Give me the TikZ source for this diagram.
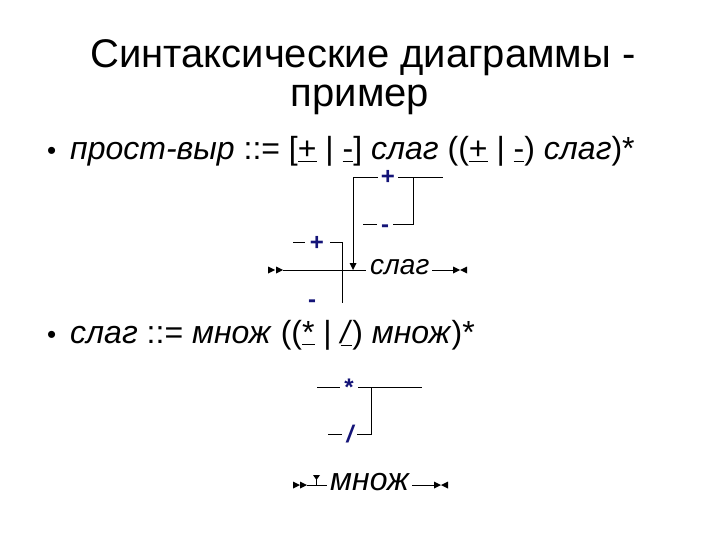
\documentclass[tikz,border=0pt]{standalone}
\usepackage{fontspec}
\setmainfont{Liberation Sans}
\definecolor{lblblue}{RGB}{20,20,120}
\begin{document}
\begin{tikzpicture}[x=1pt,y=-1pt,
  ttl/.style={font=\fontsize{40}{44}\selectfont, inner sep=0pt, anchor=base},
  btxt/.style={font=\fontsize{32}{36}\selectfont, anchor=base west, inner sep=0pt},
  bdot/.style={font=\fontsize{26}{28}\selectfont, anchor=base west, inner sep=0pt},
  lbl/.style={font=\fontsize{24}{26}\selectfont\bfseries, text=lblblue, inner sep=0pt, text height=14pt, text depth=0pt},
  nt/.style={font=\fontsize{28}{32}\selectfont\itshape, inner sep=0pt},
  ln/.style={line width=1pt, black},
  tri/.style={fill=black}]
\useasboundingbox (0,0) rectangle (720,540);
% title
\node[ttl] (t1) at (363,68) {Синтаксические диаграммы -};
\node[ttl] (t2) at (360,107) {пример};
% bullets
\node[bdot] (b1dot) at (47,160) {•};
\node[btxt] (b1) at (70,160) {\textit{прост-выр} ::= [\underline{+} | \underline{-}] \textit{слаг} ((\underline{+} | \underline{-}) \textit{слаг})*};
\node[bdot] (b2dot) at (47,343) {•};
\node[btxt] (b2) at (70,343) {\textit{слаг} ::= \textit{множ} ((\underline{*} | \underline{\textit{/}}) \textit{множ})*};
% ---- diagram 1 ----
\coordinate (s1) at (283,270);
\coordinate (m1) at (366,270);
\node[nt, anchor=west] (slag) at (370,267) {слаг};
\coordinate (e1a) at (432,270);
\coordinate (e1b) at (453,270);
\draw[ln] (s1) -- (m1);
\draw[ln] (e1a) -- (e1b);
\fill[tri] (268,266.5) -- (275,270) -- (268,273.5) -- cycle;
\fill[tri] (276,266.5) -- (283,270) -- (276,273.5) -- cycle;
\fill[tri] (453,266.5) -- (460,270) -- (453,273.5) -- cycle;
\fill[tri] (467,266.5) -- (460,270) -- (467,273.5) -- cycle;
% top loop
\node[lbl] (p1) at (388,177.5) {+};
\coordinate (a1) at (353,178);
\coordinate (a2) at (378,178);
\coordinate (a3) at (398,178);
\coordinate (a4) at (443,178);
\coordinate (a5) at (413,178);
\coordinate (a6) at (413,225);
\coordinate (a7) at (393,225);
\coordinate (a8) at (377,225);
\coordinate (a9) at (363,225);
\coordinate (a10) at (353,263);
\node[lbl] (mi1) at (385,226) {-};
\draw[ln] (a10) -- (a1) -- (a2);
\draw[ln] (a3) -- (a4);
\draw[ln] (a5) -- (a6) -- (a7);
\draw[ln] (a8) -- (a9);
\fill[tri] (349.5,263) -- (356.5,263) -- (353,270) -- cycle;
% left branch
\node[lbl] (p2) at (317,243) {+};
\node[lbl] (mi2) at (312,300) {-};
\coordinate (c1) at (293,242);
\coordinate (c2) at (305,242);
\coordinate (c3) at (330,242);
\coordinate (c4) at (342,242);
\coordinate (c5) at (342,303);
\draw[ln] (c1) -- (c2);
\draw[ln] (c3) -- (c4) -- (c5);
% ---- diagram 2 ----
\node[lbl] (st) at (349,388) {*};
\node[lbl, font=\fontsize{24}{26}\selectfont\bfseries\itshape] (sl) at (350,435) {/};
\coordinate (d1) at (317,387);
\coordinate (d2) at (340,387);
\coordinate (d3) at (358,387);
\coordinate (d4) at (422,387);
\coordinate (d5) at (371,387);
\coordinate (d6) at (371,434);
\coordinate (d7) at (357,434);
\coordinate (d8) at (342,434);
\coordinate (d9) at (328,434);
\draw[ln] (d1) -- (d2);
\draw[ln] (d3) -- (d4);
\draw[ln] (d5) -- (d6) -- (d7);
\draw[ln] (d8) -- (d9);
\coordinate (s2) at (307,485);
\coordinate (m2) at (327,485);
\node[nt, font=\fontsize{32}{34}\selectfont\itshape, anchor=west] (mnoz) at (330,482) {множ};
\coordinate (e2a) at (412,485);
\coordinate (e2b) at (434,485);
\draw[ln] (s2) -- (m2);
\draw[ln] (e2a) -- (e2b);
\fill[tri] (293,481.5) -- (300,485) -- (293,488.5) -- cycle;
\fill[tri] (300,481.5) -- (307,485) -- (300,488.5) -- cycle;
\fill[tri] (434,481.5) -- (441,485) -- (434,488.5) -- cycle;
\fill[tri] (448,481.5) -- (441,485) -- (448,488.5) -- cycle;
\coordinate (v1) at (316.5,479);
\coordinate (v2) at (316.5,485);
\fill[tri] (313,475) -- (320,475) -- (316.5,480) -- cycle;
\draw[line width=0.8pt] (v1) -- (v2);
\end{tikzpicture}
\end{document}
